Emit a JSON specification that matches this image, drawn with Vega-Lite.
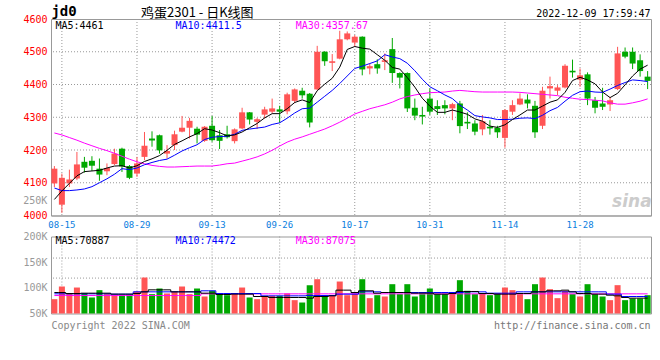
{
"$schema": "https://vega.github.io/schema/vega-lite/v6.json",
"background": "#ffffff",
"padding": {"left": 22, "top": 4, "right": 0, "bottom": 0},
"bounds": "flush",
"spacing": 20.5,
"config": {
  "view": {"stroke": "#999999", "strokeWidth": 1}
},
"datasets": {
"gx": [{"d":"08-15"},{"d":"08-29"},{"d":"09-13"},{"d":"09-26"},{"d":"10-17"},{"d":"10-31"},{"d":"11-14"},{"d":"11-28"}],
"k": [
{"d":"08-12","o":4098,"h":4151,"l":4087,"c":4143,"m5":4049,"m10":4084,"m30":4252,"v":77900,"vm5":90900,"vm10":88300,"vm30":85000},
{"d":"08-15","o":4033,"h":4128,"l":4008,"c":4115,"m5":4075,"m10":4076,"m30":4246,"v":102600,"vm5":90900,"vm10":88300,"vm30":85000},
{"d":"08-16","o":4098,"h":4140,"l":4087,"c":4110,"m5":4098,"m10":4076,"m30":4238,"v":89600,"vm5":88900,"vm10":88300,"vm30":85000},
{"d":"08-17","o":4113,"h":4194,"l":4108,"c":4156,"m5":4121,"m10":4078,"m30":4230,"v":100600,"vm5":88900,"vm10":88300,"vm30":85000},
{"d":"08-18","o":4164,"h":4179,"l":4131,"c":4146,"m5":4134,"m10":4081,"m30":4221,"v":89600,"vm5":89600,"vm10":88300,"vm30":85000},
{"d":"08-19","o":4167,"h":4181,"l":4136,"c":4152,"m5":4136,"m10":4088,"m30":4213,"v":81200,"vm5":89600,"vm10":88300,"vm30":85000},
{"d":"08-22","o":4143,"h":4174,"l":4106,"c":4125,"m5":4138,"m10":4100,"m30":4205,"v":95500,"vm5":89600,"vm10":88300,"vm30":85000},
{"d":"08-23","o":4135,"h":4159,"l":4123,"c":4145,"m5":4145,"m10":4112,"m30":4198,"v":87700,"vm5":89600,"vm10":88300,"vm30":85000},
{"d":"08-24","o":4157,"h":4204,"l":4154,"c":4189,"m5":4151,"m10":4126,"m30":4190,"v":84400,"vm5":87700,"vm10":87700,"vm30":85000},
{"d":"08-25","o":4204,"h":4207,"l":4133,"c":4150,"m5":4152,"m10":4143,"m30":4181,"v":85700,"vm5":87700,"vm10":87700,"vm30":85000},
{"d":"08-26","o":4151,"h":4154,"l":4111,"c":4115,"m5":4145,"m10":4140,"m30":4172,"v":85700,"vm5":87700,"vm10":87700,"vm30":85000},
{"d":"08-29","o":4128,"h":4179,"l":4118,"c":4159,"m5":4152,"m10":4145,"m30":4164,"v":92900,"vm5":88900,"vm10":92200,"vm30":85000},
{"d":"08-30","o":4179,"h":4255,"l":4169,"c":4213,"m5":4165,"m10":4155,"m30":4158,"v":120100,"vm5":92200,"vm10":92200,"vm30":85000},
{"d":"08-31","o":4235,"h":4257,"l":4210,"c":4229,"m5":4173,"m10":4162,"m30":4153,"v":87700,"vm5":96100,"vm10":92200,"vm30":85000},
{"d":"09-01","o":4245,"h":4247,"l":4189,"c":4199,"m5":4183,"m10":4168,"m30":4150,"v":98700,"vm5":96100,"vm10":92200,"vm30":85000},
{"d":"09-02","o":4189,"h":4215,"l":4174,"c":4197,"m5":4199,"m10":4172,"m30":4148,"v":89000,"vm5":96100,"vm10":92200,"vm30":85000},
{"d":"09-05","o":4215,"h":4259,"l":4200,"c":4248,"m5":4217,"m10":4184,"m30":4148,"v":92900,"vm5":92200,"vm10":92200,"vm30":85000},
{"d":"09-06","o":4256,"h":4304,"l":4254,"c":4268,"m5":4228,"m10":4197,"m30":4149,"v":102600,"vm5":92200,"vm10":92200,"vm30":85000},
{"d":"09-07","o":4268,"h":4298,"l":4235,"c":4289,"m5":4240,"m10":4207,"m30":4150,"v":87700,"vm5":92200,"vm10":92200,"vm30":85000},
{"d":"09-08","o":4265,"h":4271,"l":4220,"c":4247,"m5":4250,"m10":4216,"m30":4151,"v":98700,"vm5":92200,"vm10":92200,"vm30":85000},
{"d":"09-09","o":4228,"h":4273,"l":4225,"c":4271,"m5":4265,"m10":4232,"m30":4151,"v":83100,"vm5":89600,"vm10":94200,"vm30":88300},
{"d":"09-13","o":4274,"h":4304,"l":4225,"c":4230,"m5":4261,"m10":4239,"m30":4151,"v":94200,"vm5":89600,"vm10":94200,"vm30":88300},
{"d":"09-14","o":4245,"h":4261,"l":4203,"c":4228,"m5":4253,"m10":4241,"m30":4154,"v":87700,"vm5":87000,"vm10":88900,"vm30":88300},
{"d":"09-15","o":4248,"h":4274,"l":4235,"c":4239,"m5":4243,"m10":4242,"m30":4158,"v":85700,"vm5":87000,"vm10":88900,"vm30":88300},
{"d":"09-16","o":4227,"h":4266,"l":4220,"c":4263,"m5":4246,"m10":4248,"m30":4160,"v":87700,"vm5":87700,"vm10":88900,"vm30":88300},
{"d":"09-19","o":4266,"h":4329,"l":4264,"c":4315,"m5":4255,"m10":4260,"m30":4166,"v":100600,"vm5":87700,"vm10":88900,"vm30":88300},
{"d":"09-20","o":4315,"h":4316,"l":4278,"c":4293,"m5":4268,"m10":4264,"m30":4172,"v":81200,"vm5":87700,"vm10":88900,"vm30":88300},
{"d":"09-21","o":4286,"h":4298,"l":4264,"c":4294,"m5":4281,"m10":4267,"m30":4179,"v":77900,"vm5":83100,"vm10":88900,"vm30":88300},
{"d":"09-22","o":4308,"h":4332,"l":4296,"c":4324,"m5":4298,"m10":4270,"m30":4188,"v":82500,"vm5":83100,"vm10":84400,"vm30":88300},
{"d":"09-23","o":4317,"h":4357,"l":4312,"c":4327,"m5":4311,"m10":4278,"m30":4199,"v":84400,"vm5":81200,"vm10":84400,"vm30":88300},
{"d":"09-26","o":4324,"h":4335,"l":4283,"c":4317,"m5":4311,"m10":4283,"m30":4212,"v":84400,"vm5":81200,"vm10":84400,"vm30":88300},
{"d":"09-27","o":4318,"h":4375,"l":4309,"c":4370,"m5":4326,"m10":4297,"m30":4224,"v":89000,"vm5":81200,"vm10":84400,"vm30":88300},
{"d":"09-28","o":4350,"h":4388,"l":4343,"c":4385,"m5":4345,"m10":4313,"m30":4233,"v":76000,"vm5":81200,"vm10":84400,"vm30":88300},
{"d":"09-29","o":4381,"h":4390,"l":4357,"c":4367,"m5":4353,"m10":4326,"m30":4240,"v":71400,"vm5":81200,"vm10":84400,"vm30":88300},
{"d":"09-30","o":4372,"h":4374,"l":4269,"c":4284,"m5":4345,"m10":4328,"m30":4248,"v":105200,"vm5":79900,"vm10":85000,"vm30":88300},
{"d":"10-10","o":4385,"h":4518,"l":4383,"c":4500,"m5":4381,"m10":4346,"m30":4256,"v":116800,"vm5":83100,"vm10":85000,"vm30":88300},
{"d":"10-11","o":4500,"h":4502,"l":4457,"c":4471,"m5":4401,"m10":4364,"m30":4264,"v":84400,"vm5":83100,"vm10":85000,"vm30":88300},
{"d":"10-12","o":4466,"h":4493,"l":4441,"c":4471,"m5":4419,"m10":4382,"m30":4274,"v":84400,"vm5":84400,"vm10":85000,"vm30":88300},
{"d":"10-13","o":4479,"h":4564,"l":4477,"c":4538,"m5":4453,"m10":4403,"m30":4285,"v":112300,"vm5":95500,"vm10":87700,"vm30":88300},
{"d":"10-14","o":4538,"h":4562,"l":4535,"c":4556,"m5":4507,"m10":4426,"m30":4297,"v":85700,"vm5":95500,"vm10":87700,"vm30":88300},
{"d":"10-17","o":4528,"h":4551,"l":4515,"c":4546,"m5":4516,"m10":4449,"m30":4310,"v":89000,"vm5":90900,"vm10":87700,"vm30":88300},
{"d":"10-18","o":4546,"h":4547,"l":4428,"c":4446,"m5":4511,"m10":4456,"m30":4318,"v":116800,"vm5":94200,"vm10":92200,"vm30":88300},
{"d":"10-19","o":4449,"h":4464,"l":4431,"c":4456,"m5":4508,"m10":4464,"m30":4326,"v":79900,"vm5":94200,"vm10":92200,"vm30":88300},
{"d":"10-20","o":4462,"h":4477,"l":4433,"c":4449,"m5":4491,"m10":4472,"m30":4332,"v":85700,"vm5":89600,"vm10":92200,"vm30":88300},
{"d":"10-21","o":4469,"h":4495,"l":4444,"c":4474,"m5":4474,"m10":4491,"m30":4338,"v":83100,"vm5":90900,"vm10":90900,"vm30":88300},
{"d":"10-24","o":4508,"h":4542,"l":4405,"c":4435,"m5":4452,"m10":4484,"m30":4346,"v":107100,"vm5":90900,"vm10":90900,"vm30":88300},
{"d":"10-25","o":4435,"h":4437,"l":4388,"c":4421,"m5":4447,"m10":4479,"m30":4356,"v":87700,"vm5":90900,"vm10":90900,"vm30":88300},
{"d":"10-26","o":4435,"h":4437,"l":4316,"c":4327,"m5":4421,"m10":4465,"m30":4363,"v":107100,"vm5":90900,"vm10":90900,"vm30":88300},
{"d":"10-27","o":4329,"h":4357,"l":4291,"c":4305,"m5":4392,"m10":4442,"m30":4368,"v":83100,"vm5":89600,"vm10":90900,"vm30":88300},
{"d":"10-28","o":4307,"h":4332,"l":4278,"c":4302,"m5":4358,"m10":4416,"m30":4372,"v":87700,"vm5":89600,"vm10":90900,"vm30":88300},
{"d":"10-31","o":4357,"h":4388,"l":4307,"c":4317,"m5":4334,"m10":4393,"m30":4375,"v":98700,"vm5":89600,"vm10":90900,"vm30":88300},
{"d":"11-01","o":4334,"h":4352,"l":4307,"c":4325,"m5":4315,"m10":4381,"m30":4376,"v":87700,"vm5":87700,"vm10":90900,"vm30":88300},
{"d":"11-02","o":4337,"h":4352,"l":4309,"c":4327,"m5":4315,"m10":4368,"m30":4377,"v":87700,"vm5":87700,"vm10":90900,"vm30":88300},
{"d":"11-03","o":4327,"h":4344,"l":4291,"c":4340,"m5":4322,"m10":4357,"m30":4380,"v":89000,"vm5":88900,"vm10":90900,"vm30":88300},
{"d":"11-04","o":4342,"h":4350,"l":4251,"c":4273,"m5":4316,"m10":4337,"m30":4382,"v":114900,"vm5":92900,"vm10":90900,"vm30":88300},
{"d":"11-07","o":4286,"h":4315,"l":4264,"c":4281,"m5":4309,"m10":4322,"m30":4380,"v":94200,"vm5":92900,"vm10":92200,"vm30":88300},
{"d":"11-08","o":4281,"h":4291,"l":4245,"c":4256,"m5":4295,"m10":4305,"m30":4378,"v":87700,"vm5":92900,"vm10":92200,"vm30":88300},
{"d":"11-09","o":4263,"h":4307,"l":4245,"c":4288,"m5":4288,"m10":4301,"m30":4377,"v":89000,"vm5":88900,"vm10":92200,"vm30":88300},
{"d":"11-10","o":4271,"h":4291,"l":4247,"c":4266,"m5":4273,"m10":4298,"m30":4377,"v":85700,"vm5":88900,"vm10":89600,"vm30":88300},
{"d":"11-11","o":4268,"h":4274,"l":4237,"c":4254,"m5":4269,"m10":4293,"m30":4377,"v":89000,"vm5":87700,"vm10":89600,"vm30":88300},
{"d":"11-14","o":4237,"h":4325,"l":4207,"c":4322,"m5":4277,"m10":4293,"m30":4377,"v":100600,"vm5":87700,"vm10":89600,"vm30":88300},
{"d":"11-15","o":4317,"h":4352,"l":4307,"c":4337,"m5":4293,"m10":4294,"m30":4377,"v":95500,"vm5":87700,"vm10":89600,"vm30":88300},
{"d":"11-16","o":4339,"h":4373,"l":4337,"c":4357,"m5":4307,"m10":4297,"m30":4376,"v":87700,"vm5":88900,"vm10":92200,"vm30":88300},
{"d":"11-17","o":4354,"h":4370,"l":4327,"c":4342,"m5":4322,"m10":4298,"m30":4374,"v":77900,"vm5":88900,"vm10":92200,"vm30":88300},
{"d":"11-18","o":4335,"h":4350,"l":4237,"c":4254,"m5":4322,"m10":4296,"m30":4372,"v":107100,"vm5":92200,"vm10":92200,"vm30":88300},
{"d":"11-21","o":4274,"h":4393,"l":4264,"c":4381,"m5":4334,"m10":4306,"m30":4370,"v":120100,"vm5":92200,"vm10":92200,"vm30":88300},
{"d":"11-22","o":4388,"h":4424,"l":4357,"c":4395,"m5":4346,"m10":4320,"m30":4368,"v":97400,"vm5":94200,"vm10":92200,"vm30":88300},
{"d":"11-23","o":4381,"h":4398,"l":4368,"c":4391,"m5":4353,"m10":4330,"m30":4366,"v":79900,"vm5":94200,"vm10":92200,"vm30":88300},
{"d":"11-24","o":4391,"h":4462,"l":4388,"c":4457,"m5":4376,"m10":4349,"m30":4361,"v":94200,"vm5":95500,"vm10":92200,"vm30":88300},
{"d":"11-25","o":4442,"h":4476,"l":4421,"c":4437,"m5":4412,"m10":4367,"m30":4358,"v":87700,"vm5":92200,"vm10":92200,"vm30":88300},
{"d":"11-28","o":4415,"h":4449,"l":4393,"c":4428,"m5":4422,"m10":4378,"m30":4355,"v":83100,"vm5":88900,"vm10":92200,"vm30":88300},
{"d":"11-29","o":4431,"h":4437,"l":4337,"c":4357,"m5":4414,"m10":4380,"m30":4354,"v":107100,"vm5":88900,"vm10":92200,"vm30":88300},
{"d":"11-30","o":4352,"h":4362,"l":4312,"c":4329,"m5":4402,"m10":4377,"m30":4352,"v":87700,"vm5":87700,"vm10":92200,"vm30":88300},
{"d":"12-01","o":4342,"h":4390,"l":4322,"c":4332,"m5":4377,"m10":4376,"m30":4350,"v":83100,"vm5":87700,"vm10":92200,"vm30":88300},
{"d":"12-02","o":4339,"h":4362,"l":4319,"c":4352,"m5":4360,"m10":4386,"m30":4344,"v":76000,"vm5":85700,"vm10":87700,"vm30":88300},
{"d":"12-05","o":4386,"h":4515,"l":4383,"c":4495,"m5":4373,"m10":4397,"m30":4340,"v":105200,"vm5":84400,"vm10":87700,"vm30":88300},
{"d":"12-06","o":4500,"h":4513,"l":4480,"c":4485,"m5":4399,"m10":4406,"m30":4340,"v":76000,"vm5":81200,"vm10":83100,"vm30":88300},
{"d":"12-07","o":4500,"h":4513,"l":4447,"c":4464,"m5":4426,"m10":4414,"m30":4344,"v":79200,"vm5":79900,"vm10":83100,"vm30":88300},
{"d":"12-08","o":4474,"h":4492,"l":4424,"c":4441,"m5":4447,"m10":4412,"m30":4349,"v":79200,"vm5":79900,"vm10":83100,"vm30":88300},
{"d":"12-09","o":4424,"h":4441,"l":4386,"c":4411,"m5":4459,"m10":4409,"m30":4356,"v":85700,"vm5":79900,"vm10":83100,"vm30":88300}
]
},
"vconcat": [
{
  "width": 600,
  "height": 196.5,
  "encoding": {
    "x": {"field": "d", "type": "ordinal", "scale": {"type": "band", "paddingInner": 0.2, "paddingOuter": 0.05},
          "axis": {"values": ["08-15","08-29","09-13","09-26","10-17","10-31","11-14","11-28"], "labelColor": "#0a7ee0", "labelFont": "DejaVu Sans Mono", "labelFontSize": 9, "labelAngle": 0, "labelPadding": 5, "ticks": false, "domain": true, "domainColor": "#999999", "grid": false, "labelOverlap": false, "labelFlush": false, "title": null}}
  },
  "layer": [
    {
      "data": {"name": "gx"},
      "mark": {"type": "rule", "color": "#999999", "strokeWidth": 1, "strokeDash": [1, 2]},
      "encoding": {}
    },
    {
      "data": {"values": [{"p": 4100}, {"p": 4200}, {"p": 4300}, {"p": 4400}, {"p": 4500}]},
      "mark": {"type": "rule", "color": "#999999", "strokeWidth": 1, "strokeDash": [1, 2]},
      "encoding": {"x": null, "y": {"field": "p", "type": "quantitative",
              "axis": {"values": [4000,4100,4200,4300,4400,4500,4600], "format": "d", "labelColor": "#ff0000", "labelFont": "DejaVu Sans Mono", "labelFontSize": 10, "labelPadding": 4, "ticks": false, "domain": false, "grid": false, "labelOverlap": false, "labelFlush": false, "title": null}}}
    },
    {
      "data": {"name": "k"},
      "mark": {"type": "rule", "strokeWidth": 1},
      "encoding": {
        "y": {"field": "l", "type": "quantitative", "scale": {"domain": [4000, 4600], "nice": false, "zero": false},
              "axis": {"values": [4000,4100,4200,4300,4400,4500,4600], "format": "d", "labelColor": "#ff0000", "labelFont": "DejaVu Sans Mono", "labelFontSize": 10, "labelPadding": 4, "ticks": false, "domain": false, "grid": false, "labelOverlap": false, "labelFlush": false, "title": null}},
        "y2": {"field": "h"},
        "color": {"condition": {"test": "datum.c >= datum.o", "value": "#ff5555"}, "value": "#00a800"}
      }
    },
    {
      "data": {"name": "k"},
      "mark": {"type": "bar"},
      "encoding": {
        "y": {"field": "o", "type": "quantitative",
              "axis": {"values": [4000,4100,4200,4300,4400,4500,4600], "format": "d", "labelColor": "#ff0000", "labelFont": "DejaVu Sans Mono", "labelFontSize": 10, "labelPadding": 4, "ticks": false, "domain": false, "grid": false, "labelOverlap": false, "labelFlush": false, "title": null}},
        "y2": {"field": "c"},
        "color": {"condition": {"test": "datum.c >= datum.o", "value": "#ff5555"}, "value": "#00a800"}
      }
    },
    {
      "data": {"name": "k"},
      "mark": {"type": "line", "color": "#ff00ff", "strokeWidth": 1},
      "encoding": {"y": {"field": "m30", "type": "quantitative",
              "axis": {"values": [4000,4100,4200,4300,4400,4500,4600], "format": "d", "labelColor": "#ff0000", "labelFont": "DejaVu Sans Mono", "labelFontSize": 10, "labelPadding": 4, "ticks": false, "domain": false, "grid": false, "labelOverlap": false, "labelFlush": false, "title": null}}}
    },
    {
      "data": {"name": "k"},
      "mark": {"type": "line", "color": "#0000ff", "strokeWidth": 1},
      "encoding": {"y": {"field": "m10", "type": "quantitative",
              "axis": {"values": [4000,4100,4200,4300,4400,4500,4600], "format": "d", "labelColor": "#ff0000", "labelFont": "DejaVu Sans Mono", "labelFontSize": 10, "labelPadding": 4, "ticks": false, "domain": false, "grid": false, "labelOverlap": false, "labelFlush": false, "title": null}}}
    },
    {
      "data": {"name": "k"},
      "mark": {"type": "line", "color": "#000000", "strokeWidth": 1},
      "encoding": {"y": {"field": "m5", "type": "quantitative",
              "axis": {"values": [4000,4100,4200,4300,4400,4500,4600], "format": "d", "labelColor": "#ff0000", "labelFont": "DejaVu Sans Mono", "labelFontSize": 10, "labelPadding": 4, "ticks": false, "domain": false, "grid": false, "labelOverlap": false, "labelFlush": false, "title": null}}}
    },
    {
      "data": {"values": [{"d": "08-12", "p": 4579, "t": "MA5:4461", "s": "MA5"}, {"d": "09-05", "p": 4579, "t": "MA10:4411.5", "s": "MA10"}, {"d": "09-28", "p": 4579, "t": "MA30:4357.67", "s": "MA30"}]},
      "mark": {"type": "text", "align": "left", "baseline": "middle", "dx": 1, "font": "DejaVu Sans Mono", "fontSize": 10},
      "encoding": {
        "y": {"field": "p", "type": "quantitative",
              "axis": {"values": [4000,4100,4200,4300,4400,4500,4600], "format": "d", "labelColor": "#ff0000", "labelFont": "DejaVu Sans Mono", "labelFontSize": 10, "labelPadding": 4, "ticks": false, "domain": false, "grid": false, "labelOverlap": false, "labelFlush": false, "title": null}},
        "text": {"field": "t"},
        "color": {"field": "s", "type": "nominal", "scale": {"domain": ["MA5","MA10","MA30"], "range": ["#000000","#0000ff","#ff00ff"]}, "legend": null}
      }
    },
    {
      "data": {"values": [{"d": "08-12", "p": 4621, "t": "jd0"}]},
      "mark": {"type": "text", "align": "left", "baseline": "middle", "dx": -3, "font": "DejaVu Sans Mono", "fontSize": 14, "fontWeight": "bold", "color": "#000000"},
      "encoding": {"y": {"field": "p", "type": "quantitative",
              "axis": {"values": [4000,4100,4200,4300,4400,4500,4600], "format": "d", "labelColor": "#ff0000", "labelFont": "DejaVu Sans Mono", "labelFontSize": 10, "labelPadding": 4, "ticks": false, "domain": false, "grid": false, "labelOverlap": false, "labelFlush": false, "title": null}}, "text": {"field": "t"}}
    },
    {
      "data": {"values": [{"d": "08-30", "p": 4619, "t": "鸡蛋2301 - 日K线图"}]},
      "mark": {"type": "text", "align": "left", "baseline": "middle", "dx": -3.5, "font": "Noto Sans CJK SC", "fontSize": 13, "color": "#000000"},
      "encoding": {"y": {"field": "p", "type": "quantitative",
              "axis": {"values": [4000,4100,4200,4300,4400,4500,4600], "format": "d", "labelColor": "#ff0000", "labelFont": "DejaVu Sans Mono", "labelFontSize": 10, "labelPadding": 4, "ticks": false, "domain": false, "grid": false, "labelOverlap": false, "labelFlush": false, "title": null}}, "text": {"field": "t"}}
    },
    {
      "data": {"values": [{"d": "12-09", "p": 4616, "t": "2022-12-09 17:59:47"}]},
      "mark": {"type": "text", "align": "right", "baseline": "middle", "dx": 3, "font": "DejaVu Sans Mono", "fontSize": 10, "color": "#000000"},
      "encoding": {"y": {"field": "p", "type": "quantitative",
              "axis": {"values": [4000,4100,4200,4300,4400,4500,4600], "format": "d", "labelColor": "#ff0000", "labelFont": "DejaVu Sans Mono", "labelFontSize": 10, "labelPadding": 4, "ticks": false, "domain": false, "grid": false, "labelOverlap": false, "labelFlush": false, "title": null}}, "text": {"field": "t"}}
    },
    {
      "data": {"values": [{"d": "12-09", "p": 4042, "t": "sina"}]},
      "mark": {"type": "text", "align": "right", "baseline": "middle", "dx": 4, "font": "DejaVu Sans", "fontSize": 17, "fontStyle": "italic", "fontWeight": "bold", "color": "#cccccc"},
      "encoding": {"y": {"field": "p", "type": "quantitative",
              "axis": {"values": [4000,4100,4200,4300,4400,4500,4600], "format": "d", "labelColor": "#ff0000", "labelFont": "DejaVu Sans Mono", "labelFontSize": 10, "labelPadding": 4, "ticks": false, "domain": false, "grid": false, "labelOverlap": false, "labelFlush": false, "title": null}}, "text": {"field": "t"}}
    },
    {
      "data": {"values": [{"d": "08-12", "p": 4045, "t": "250K"}]},
      "mark": {"type": "text", "align": "right", "baseline": "middle", "dx": -7, "font": "DejaVu Sans Mono", "fontSize": 10, "color": "#999999"},
      "encoding": {"y": {"field": "p", "type": "quantitative",
              "axis": {"values": [4000,4100,4200,4300,4400,4500,4600], "format": "d", "labelColor": "#ff0000", "labelFont": "DejaVu Sans Mono", "labelFontSize": 10, "labelPadding": 4, "ticks": false, "domain": false, "grid": false, "labelOverlap": false, "labelFlush": false, "title": null}}, "text": {"field": "t"}}
    }
  ]
},
{
  "width": 600,
  "height": 77,
  "encoding": {
    "x": {"field": "d", "type": "ordinal", "scale": {"type": "band", "paddingInner": 0.2, "paddingOuter": 0.05},
          "axis": {"values": ["08-15","08-29","09-13","09-26","10-17","10-31","11-14","11-28"], "labels": false, "ticks": false, "domain": false, "grid": false, "title": null}}
  },
  "layer": [
    {
      "data": {"name": "gx"},
      "mark": {"type": "rule", "color": "#999999", "strokeWidth": 1, "strokeDash": [1, 2]},
      "encoding": {}
    },
    {
      "data": {"values": [{"p": 158000}, {"p": 119000}]},
      "mark": {"type": "rule", "color": "#999999", "strokeWidth": 1, "strokeDash": [1, 2]},
      "encoding": {"x": null, "y": {"field": "p", "type": "quantitative",
              "axis": {"values": [50000,100000,150000,200000], "labelExpr": "datum.value / 1000 + 'K'", "labelColor": "#999999", "labelFont": "DejaVu Sans Mono", "labelFontSize": 10, "labelPadding": 4, "ticks": false, "domain": false, "grid": false, "labelOverlap": false, "labelFlush": false, "title": null}}}
    },
    {
      "data": {"name": "k"},
      "mark": {"type": "bar"},
      "encoding": {
        "y": {"field": "v", "type": "quantitative", "scale": {"domain": [50000, 200000], "nice": false, "zero": false},
              "axis": {"values": [50000,100000,150000,200000], "labelExpr": "datum.value / 1000 + 'K'", "labelColor": "#999999", "labelFont": "DejaVu Sans Mono", "labelFontSize": 10, "labelPadding": 4, "ticks": false, "domain": false, "grid": false, "labelOverlap": false, "labelFlush": false, "title": null}},
        "y2": {"datum": 50000},
        "color": {"condition": {"test": "datum.c >= datum.o", "value": "#ff5555"}, "value": "#00a800"}
      }
    },
    {
      "data": {"name": "k"},
      "mark": {"type": "line", "color": "#ff00ff", "strokeWidth": 1, "interpolate": "step"},
      "encoding": {"y": {"field": "vm30", "type": "quantitative",
              "axis": {"values": [50000,100000,150000,200000], "labelExpr": "datum.value / 1000 + 'K'", "labelColor": "#999999", "labelFont": "DejaVu Sans Mono", "labelFontSize": 10, "labelPadding": 4, "ticks": false, "domain": false, "grid": false, "labelOverlap": false, "labelFlush": false, "title": null}}}
    },
    {
      "data": {"name": "k"},
      "mark": {"type": "line", "color": "#0000ff", "strokeWidth": 1, "interpolate": "step"},
      "encoding": {"y": {"field": "vm10", "type": "quantitative",
              "axis": {"values": [50000,100000,150000,200000], "labelExpr": "datum.value / 1000 + 'K'", "labelColor": "#999999", "labelFont": "DejaVu Sans Mono", "labelFontSize": 10, "labelPadding": 4, "ticks": false, "domain": false, "grid": false, "labelOverlap": false, "labelFlush": false, "title": null}}}
    },
    {
      "data": {"name": "k"},
      "mark": {"type": "line", "color": "#000000", "strokeWidth": 1, "interpolate": "step"},
      "encoding": {"y": {"field": "vm5", "type": "quantitative",
              "axis": {"values": [50000,100000,150000,200000], "labelExpr": "datum.value / 1000 + 'K'", "labelColor": "#999999", "labelFont": "DejaVu Sans Mono", "labelFontSize": 10, "labelPadding": 4, "ticks": false, "domain": false, "grid": false, "labelOverlap": false, "labelFlush": false, "title": null}}}
    },
    {
      "data": {"values": [{"d": "08-12", "p": 190300, "t": "MA5:70887", "s": "MA5"}, {"d": "09-05", "p": 190300, "t": "MA10:74472", "s": "MA10"}, {"d": "09-28", "p": 190300, "t": "MA30:87075", "s": "MA30"}]},
      "mark": {"type": "text", "align": "left", "baseline": "middle", "dx": 1, "font": "DejaVu Sans Mono", "fontSize": 10},
      "encoding": {
        "y": {"field": "p", "type": "quantitative",
              "axis": {"values": [50000,100000,150000,200000], "labelExpr": "datum.value / 1000 + 'K'", "labelColor": "#999999", "labelFont": "DejaVu Sans Mono", "labelFontSize": 10, "labelPadding": 4, "ticks": false, "domain": false, "grid": false, "labelOverlap": false, "labelFlush": false, "title": null}},
        "text": {"field": "t"},
        "color": {"field": "s", "type": "nominal", "scale": {"domain": ["MA5","MA10","MA30"], "range": ["#000000","#0000ff","#ff00ff"]}, "legend": null}
      }
    },
    {
      "data": {"values": [{"d": "08-12", "p": 25300, "t": "Copyright 2022 SINA.COM"}]},
      "mark": {"type": "text", "align": "left", "baseline": "middle", "dx": -3, "font": "DejaVu Sans Mono", "fontSize": 10, "color": "#888888"},
      "encoding": {"y": {"field": "p", "type": "quantitative",
              "axis": {"values": [50000,100000,150000,200000], "labelExpr": "datum.value / 1000 + 'K'", "labelColor": "#999999", "labelFont": "DejaVu Sans Mono", "labelFontSize": 10, "labelPadding": 4, "ticks": false, "domain": false, "grid": false, "labelOverlap": false, "labelFlush": false, "title": null}}, "text": {"field": "t"}}
    },
    {
      "data": {"values": [{"d": "12-09", "p": 25300, "t": "http://finance.sina.com.cn"}]},
      "mark": {"type": "text", "align": "right", "baseline": "middle", "dx": 3, "font": "DejaVu Sans Mono", "fontSize": 10, "color": "#777777"},
      "encoding": {"y": {"field": "p", "type": "quantitative",
              "axis": {"values": [50000,100000,150000,200000], "labelExpr": "datum.value / 1000 + 'K'", "labelColor": "#999999", "labelFont": "DejaVu Sans Mono", "labelFontSize": 10, "labelPadding": 4, "ticks": false, "domain": false, "grid": false, "labelOverlap": false, "labelFlush": false, "title": null}}, "text": {"field": "t"}}
    }
  ]
}
]
}
